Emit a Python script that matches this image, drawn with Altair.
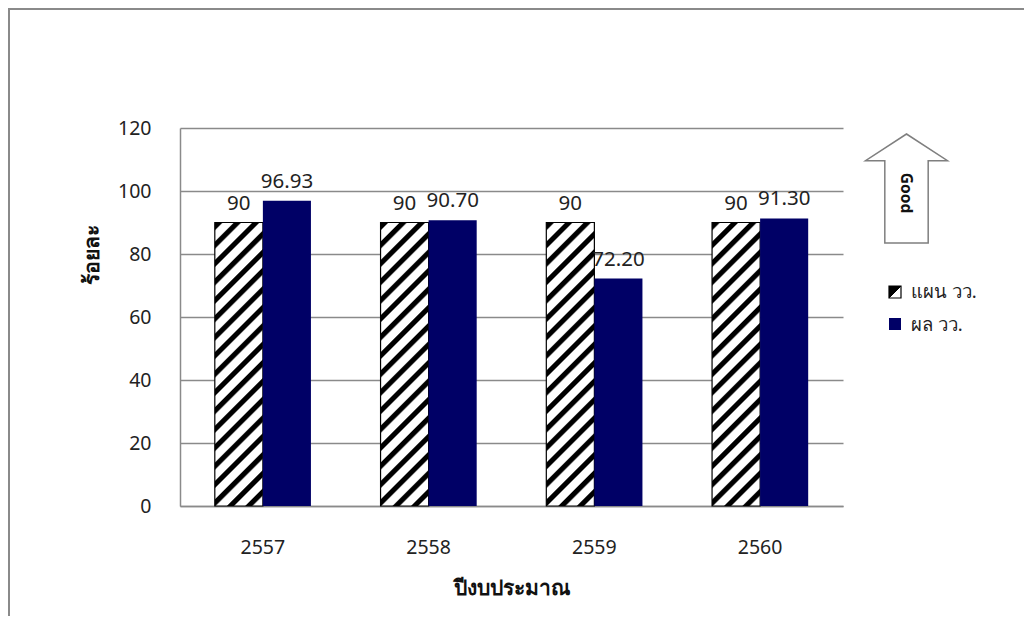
import altair as alt
import pandas as pd

years = ["2557", "2558", "2559", "2560"]
plan_values = [90, 90, 90, 90]
actual_values = [96.93, 90.70, 72.20, 91.30]
series_names = ["แผน วว.", "ผล วว."]
y_ticks = [0, 20, 40, 60, 80, 100, 120]

rows = []
for i, yr in enumerate(years):
    rows.append({"year": yr, "series": series_names[0], "value": plan_values[i]})
    rows.append({"year": yr, "series": series_names[1], "value": actual_values[i]})
df = pd.DataFrame(rows)

W, H = 663, 378
FONT = "Noto Sans"
NAVY = "#000066"
GRID = "#8a8a8a"

# diagonal stripe gradient for hatched bars (bar w=48, h=283.5)
bw, bh = 48.0, H * 90 / 120
a = bw / bh
s = (a + 1) / (a * a + 1)
n = 18
stops = []
for i in range(n):
    t0 = i / n
    step = 1 / n
    stops += [
        {"offset": t0, "color": "white"},
        {"offset": t0 + 0.08 * step, "color": "black"},
        {"offset": t0 + 0.38 * step, "color": "black"},
        {"offset": t0 + 0.48 * step, "color": "white"},
    ]
stops.append({"offset": 1, "color": "white"})
hatch = {"gradient": "linear", "x1": 0, "y1": 0, "x2": a * s, "y2": s, "stops": stops}

legend_grad = {"gradient": "linear", "x1": 0, "y1": 0, "x2": 1, "y2": 1,
               "stops": [{"offset": 0, "color": "black"}, {"offset": 0.5, "color": "black"},
                         {"offset": 0.5, "color": "white"}, {"offset": 1, "color": "white"}]}

base = alt.Chart(df)
x_enc = alt.X("year:N", sort=years,
              scale=alt.Scale(paddingInner=0.42, paddingOuter=0.21),
              axis=alt.Axis(title="ปีงบประมาณ", labelAngle=0, ticks=False, tickSize=0,
                            labelPadding=32, labelFontSize=19.5, labelColor="#222",
                            labelFont=FONT, titleFont=FONT, titleFontSize=21,
                            titleFontWeight="bold", titleColor="#111",
                            titleX=W / 2, titleY=82, titleBaseline="middle",
                            domainColor=GRID, domainWidth=1.5))
xo_enc = alt.XOffset("series:N", sort=series_names,
                     scale=alt.Scale(domain=series_names, paddingInner=0, paddingOuter=0))
y_enc = alt.Y("value:Q", scale=alt.Scale(domain=[0, 120], nice=False),
              axis=alt.Axis(title="ร้อยละ", values=y_ticks, ticks=False, tickSize=0,
                            labelPadding=29, labelFontSize=19.5, labelColor="#222",
                            labelFont=FONT, titleFont=FONT, titleFontSize=21,
                            titleFontWeight="bold", titleColor="#111",
                            titleAngle=270, titleX=-88, titleY=126,
                            titleAlign="center", titleBaseline="middle",
                            gridColor=GRID, gridWidth=1.5,
                            domainColor=GRID, domainWidth=1.5))

plan_bars = base.transform_filter(alt.datum.series == series_names[0]).mark_bar(
    fill=hatch, stroke="black", strokeWidth=1.2
).encode(x=x_enc, xOffset=xo_enc, y=y_enc)

actual_bars = base.transform_filter(alt.datum.series == series_names[1]).mark_bar(
    color=NAVY
).encode(x=x_enc, xOffset=xo_enc, y=y_enc)

plan_text = base.transform_filter(alt.datum.series == series_names[0]).mark_text(
    dy=-19, fontSize=20.5, font=FONT, color="#222"
).encode(x=x_enc, xOffset=xo_enc, y=y_enc, text=alt.Text("value:Q", format=".0f"))

actual_text = base.transform_filter(alt.datum.series == series_names[1]).mark_text(
    dy=-19, fontSize=20.5, font=FONT, color="#222"
).encode(x=x_enc, xOffset=xo_enc, y=y_enc, text=alt.Text("value:Q", format=".2f"))

one = alt.Data(values=[{"k": 1}])

# outer frame (top and left lines)
frame_top = alt.Chart(one).mark_rule(color="#8a8a8a", strokeWidth=2).encode(
    x=alt.value(-172), x2=alt.value(W + 181), y=alt.value(-119))
frame_left = alt.Chart(one).mark_rule(color="#8a8a8a", strokeWidth=2).encode(
    x=alt.value(-171), y=alt.value(-120), y2=alt.value(H + 115))

arrow_path = "M0,-1 L0.752,-0.51 L0.398,-0.51 L0.398,1 L-0.398,1 L-0.398,-0.51 L-0.752,-0.51 Z"
arrow = alt.Chart(one).mark_point(
    shape=arrow_path, filled=True, fill="white", stroke="#7f7f7f", strokeWidth=1.5,
    size=109 * 109, opacity=1
).encode(x=alt.value(906.5 - 180), y=alt.value(188.5 - 128))
good = alt.Chart(one).mark_text(
    text="Good", angle=90, fontSize=15.5, fontWeight="bold", font=FONT, color="#111"
).encode(x=alt.value(906 - 180), y=alt.value(193 - 128))

leg1 = alt.Chart(one).mark_rect(fill=legend_grad, stroke="black", strokeWidth=1.2).encode(
    x=alt.value(889 - 180), x2=alt.value(901 - 180), y=alt.value(286 - 128), y2=alt.value(298 - 128))
leg2 = alt.Chart(one).mark_rect(fill=NAVY).encode(
    x=alt.value(889 - 180), x2=alt.value(901 - 180), y=alt.value(318 - 128), y2=alt.value(330 - 128))
legt1 = alt.Chart(one).mark_text(
    text=series_names[0], align="left", baseline="middle", fontSize=18.5, font=FONT, color="#222"
).encode(x=alt.value(911 - 180), y=alt.value(292 - 128))
legt2 = alt.Chart(one).mark_text(
    text=series_names[1], align="left", baseline="middle", fontSize=18.5, font=FONT, color="#222"
).encode(x=alt.value(911 - 180), y=alt.value(325 - 128))

chart = alt.layer(
    frame_top, frame_left, plan_bars, actual_bars, plan_text, actual_text,
    arrow, good, leg1, leg2, legt1, legt2
).properties(
    width=W, height=H,
    autosize=alt.AutoSizeParams(type="none"),
    padding={"left": 172, "top": 120, "right": 181, "bottom": 110},
    background="white",
).configure_view(stroke=None)

chart.save("out.html", embed_options={"renderer": "svg", "actions": False})
